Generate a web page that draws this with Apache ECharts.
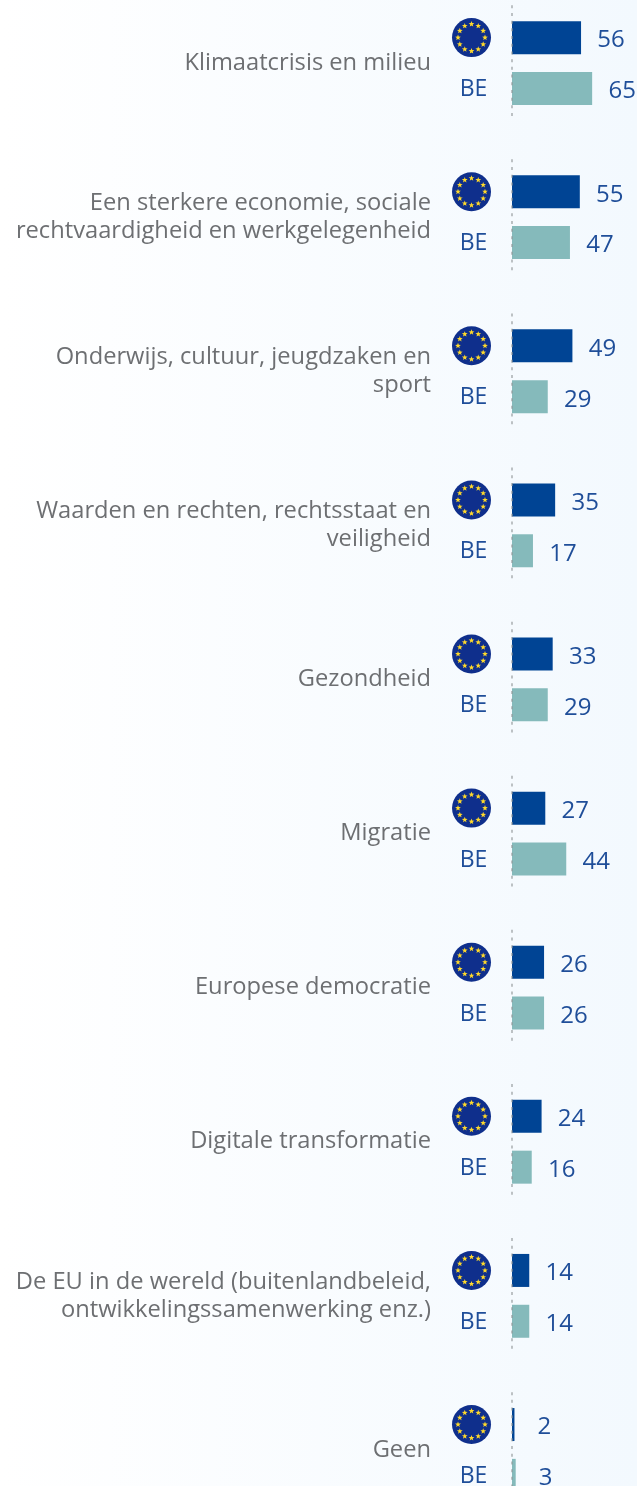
<!DOCTYPE html>
<html>
<head>
<meta charset="utf-8">
<style>
    html,body{margin:0;padding:0;overflow:hidden;background:#fff;}
    #chart{width:637px;height:1486px;}
</style>
<script src="https://cdn.jsdelivr.net/npm/echarts@6/dist/echarts.min.js"></script>
</head>
<body>
<div id="chart"></div>
<script>
    // onderwerpen, van boven naar beneden
    const categories = [
        'Klimaatcrisis en milieu',
        'Een sterkere economie, sociale\nrechtvaardigheid en werkgelegenheid',
        'Onderwijs, cultuur, jeugdzaken en\nsport',
        'Waarden en rechten, rechtsstaat en\nveiligheid',
        'Gezondheid',
        'Migratie',
        'Europese democratie',
        'Digitale transformatie',
        'De EU in de wereld (buitenlandbeleid,\nontwikkelingssamenwerking enz.)',
        'Geen'
    ]
    const euValues = [56, 55, 49, 35, 33, 27, 26, 24, 14, 2]
    const beValues = [65, 47, 29, 17, 29, 44, 26, 16, 14, 3]
    const beName = 'BE'

    const textFont = 'Open Sans'
    const blueText = '#1f4e99'
    const grayText = '#6d6f72'

    // 12 sterren rond de EU-cirkel
    function starPoints(cx, cy, r) {
        let pts = []
        for (let i = 0; i < 10; i++) {
            let a = -Math.PI / 2 + i * Math.PI / 5
            let rr = i % 2 ? r * 0.42 : r
            pts.push([cx + rr * Math.cos(a), cy + rr * Math.sin(a)])
        }
        return pts
    }

    function renderMarkers(params, api) {
        let origin = api.coord([0, api.value(0)])
        let band = api.size([0, 1])[1]
        let x = origin[0], y = origin[1]
        let euY = y - band * 0.165
        let beY = y + band * 0.165
        let flagX = x - 40.5
        let children = [{
            type: 'line',
            shape: {x1: x, y1: y - band * 0.375, x2: x, y2: y + band * 0.35},
            style: {stroke: '#8f9496', lineWidth: 1.5, lineDash: [3, 4.7], opacity: 0.75},
            z2: 10
        }, {
            type: 'circle',
            shape: {cx: flagX, cy: euY, r: 19.5},
            style: {fill: '#0f2f8c'}
        }]
        for (let i = 0; i < 12; i++) {
            let a = i * Math.PI / 6
            children.push({
                type: 'polygon',
                shape: {points: starPoints(flagX + 13.5 * Math.sin(a), euY - 13.5 * Math.cos(a), 3)},
                style: {fill: '#ffd92b'}
            })
        }
        children.push({
            type: 'text',
            style: {
                x: flagX + 2, y: beY + 1, text: beName, fill: blueText,
                font: '23px "' + textFont + '"', align: 'center', verticalAlign: 'middle'
            }
        })
        return {type: 'group', children: children}
    }

    // waardelabel gecentreerd op vaste afstand van het einde van de balk
    const valueLabel = {
        show: true,
        position: 'right',
        distance: 30,
        align: 'center',
        offset: [0, 3],
        color: blueText,
        fontFamily: textFont,
        fontSize: 24
    }

    let myChart = echarts.init(document.getElementById('chart'))
    myChart.setOption({
        animation: false,
        backgroundColor: new echarts.graphic.LinearGradient(0, 0, 1, 0, [
            {offset: 0, color: '#ffffff'},
            {offset: 1, color: '#f3f9fe'}
        ]),
        grid: {left: 512, top: -14, width: 123.3, height: 1541, outerBoundsMode: 'none'},
        xAxis: {type: 'value', min: 0, max: 100, show: false},
        yAxis: {
            type: 'category',
            inverse: true,
            data: categories,
            axisLine: {show: false},
            axisTick: {show: false},
            axisLabel: {
                margin: 81,
                color: grayText,
                fontFamily: textFont,
                fontSize: 23.7,
                lineHeight: 28,
                align: 'right'
            }
        },
        series: [{
            name: 'EU',
            type: 'bar',
            data: euValues,
            barWidth: 33,
            barGap: '54%',
            itemStyle: {color: '#004494'},
            label: valueLabel
        }, {
            name: beName,
            type: 'bar',
            data: beValues,
            barWidth: 33,
            itemStyle: {color: '#85babb'},
            label: valueLabel
        }, {
            type: 'custom',
            clip: false,
            z: 5,
            data: categories.map((c, i) => [i]),
            encode: {y: 0},
            renderItem: renderMarkers
        }]
    })
</script>
</body>
</html>
